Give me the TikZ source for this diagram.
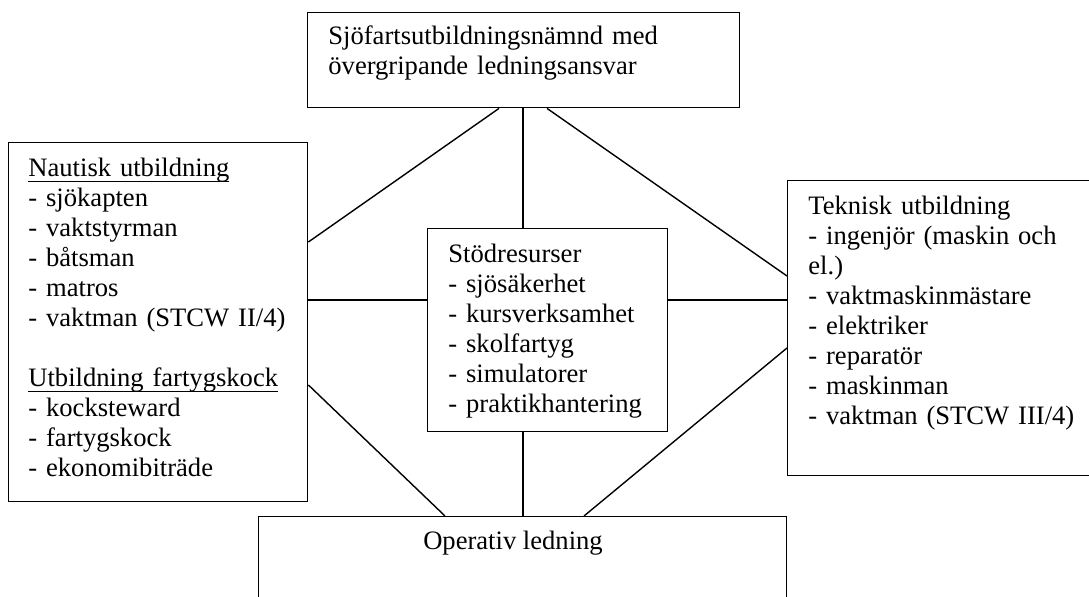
\documentclass[tikz,border=0pt]{standalone}
\usepackage{fontspec}
\setmainfont{Liberation Serif}
\usetikzlibrary{calc,positioning}
\newcommand\ulbar[1]{\leavevmode\setbox0\hbox{#1}\rlap{\rule[-2.5pt]{\wd0}{0.5pt}}\box0}

\begin{document}
\begin{tikzpicture}[x=0.5pt,y=-0.5pt,
  box/.style={draw,line width=0.7pt,inner sep=0pt,anchor=north west},
  txt/.style={anchor=base west,inner sep=0pt,align=left,text width=200pt,
    font=\fontsize{13.3}{15}\selectfont},
  link/.style={line width=0.7pt}]
\useasboundingbox (0,0) rectangle (1089,597);

\node[box,minimum width=216pt,minimum height=47.5pt] (ovr) at (307,12) {};
\node[box,minimum width=149.5pt,minimum height=179.5pt] (naut) at (8,142) {};
\node[box,minimum width=120pt,minimum height=101.5pt] (stod) at (427,228) {};
\node[box,minimum width=156.5pt,minimum height=147.5pt] (tek) at (787,180) {};
\node[box,minimum width=264pt,minimum height=52pt] (op) at (258,516) {};

\node[txt] (ovrtxt) at ($(ovr.north west)+(21,33)$)
  {Sjöfartsutbildningsnämnd med\\övergripande ledningsansvar};
\node[txt] (nauttxt) at ($(naut.north west)+(20,35)$)
  {\ulbar{Nautisk utbildning}\\- sjökapten\\- vaktstyrman\\- båtsman\\- matros\\- vaktman (STCW II/4)\\[15pt]
   \ulbar{Utbildning fartygskock}\\- kocksteward\\- fartygskock\\- ekonomibiträde};
\node[txt] (stodtxt) at ($(stod.north west)+(21,35)$)
  {Stödresurser\\- sjösäkerhet\\- kursverksamhet\\- skolfartyg\\- simulatorer\\- praktikhantering};
\node[txt] (tektxt) at ($(tek.north west)+(21,35)$)
  {Teknisk utbildning\\- ingenjör (maskin och\\el.)\\- vaktmaskinmästare\\- elektriker\\- reparatör\\- maskinman\\- vaktman (STCW III/4)};
\node[txt,anchor=base,align=center,text width=] (optxt) at ($(op.north west)+(255,34)$) {Operativ ledning};

\draw[link] ($(ovr.south west)+(192,0)$) -- ($(naut.north east)+(0,100)$);
\draw[link] ($(ovr.south west)+(216,0)$) -- ($(stod.north west)+(96,0)$);
\draw[link] ($(ovr.south west)+(240,0)$) -- ($(tek.north west)+(0,96)$);
\draw[link] ($(naut.north east)+(0,158)$) -- ($(stod.north west)+(0,72)$);
\draw[link] ($(stod.north east)+(0,72)$) -- ($(tek.north west)+(0,120)$);
\draw[link] ($(naut.north east)+(0,243)$) -- ($(op.north west)+(187,0)$);
\draw[link] ($(stod.south west)+(96,0)$) -- ($(op.north west)+(265,0)$);
\draw[link] ($(tek.north west)+(0,168)$) -- ($(op.north west)+(326,0)$);

\end{tikzpicture}
\end{document}
